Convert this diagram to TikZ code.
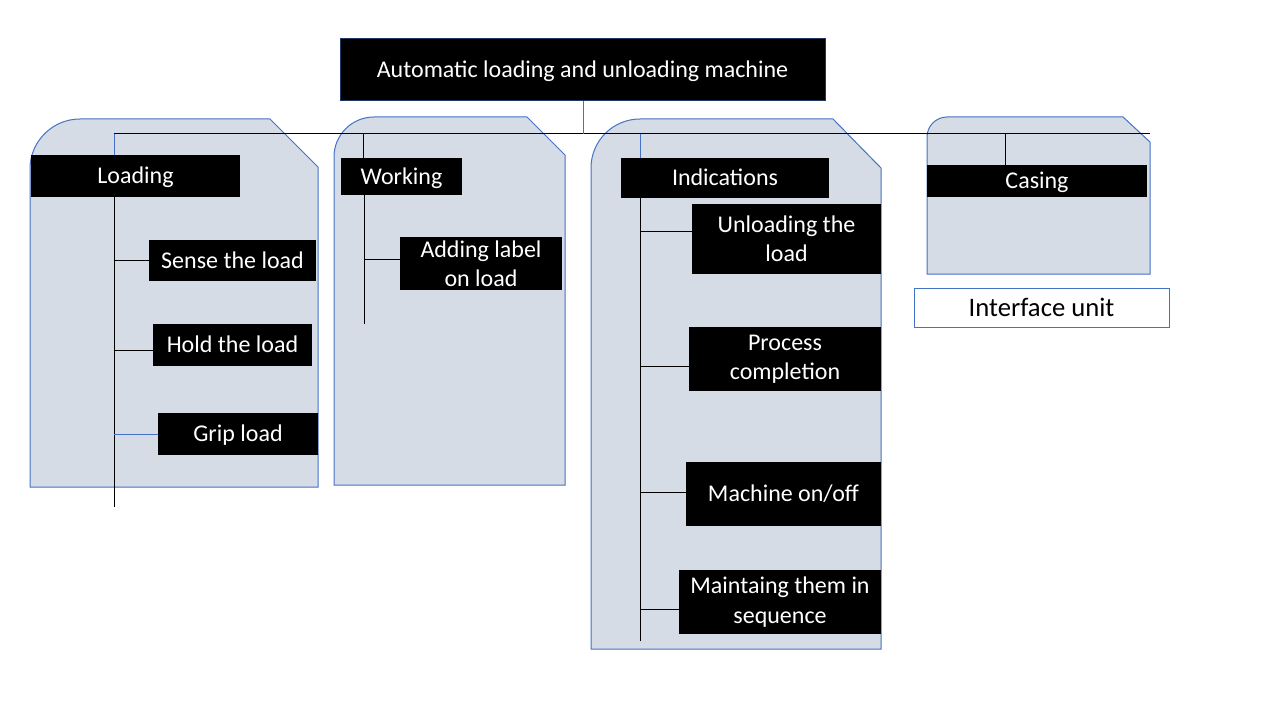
\documentclass[tikz,border=0pt]{standalone}
\usepackage{fontspec}
\setmainfont{Carlito}
\definecolor{panelfill}{HTML}{D6DCE5}
\definecolor{panelline}{HTML}{4472C4}
\definecolor{titleline}{HTML}{1F3864}
\tikzset{
  blk/.style={fill=black,text=white,inner sep=0pt,align=center,font=\fontsize{18}{22}\selectfont},
  one/.style={text height=15.84pt,text depth=4.32pt},
  panel/.style={fill=panelfill,draw=panelline,line width=0.75pt},
  bline/.style={draw=black,line width=0.75pt},
  uline/.style={draw=panelline,line width=0.75pt},
}
\begin{document}
\begin{tikzpicture}[x=0.75pt,y=-0.75pt]
\useasboundingbox (0,0) rectangle (1280,720);
% panels
\draw[panel] (30,487) -- (30,169) .. controls (30,141.4) and (52.4,119) .. (80,119) -- (270,119) -- (318,167) -- (318,487) -- cycle;
\draw[panel] (334,485) -- (334,157) .. controls (334,134.9) and (351.9,117) .. (374,117) -- (527,117) -- (565,155) -- (565,485) -- cycle;
\draw[panel] (591,649) -- (591,168) .. controls (591,140.9) and (612.9,119) .. (640,119) -- (833,119) -- (881,168) -- (881,649) -- cycle;
\draw[panel] (927,274) -- (927,137) .. controls (927,126) and (936,117) .. (947,117) -- (1123,117) -- (1150,142) -- (1150,274) -- cycle;
% title
\node[blk,one,draw=titleline,line width=0.75pt,minimum width=0.75pt*485,minimum height=0.75pt*62] (title) at (582.5,70) {Automatic loading and unloading machine};
% level boxes
\node[blk,one,minimum width=0.75pt*209,minimum height=0.75pt*42] (loading) at (135.5,176) {Loading};
\node[blk,one,minimum width=0.75pt*121,minimum height=0.75pt*37] (working) at (401.5,176.5) {Working};
\node[blk,one,minimum width=0.75pt*208,minimum height=0.75pt*40] (indic) at (725,178) {Indications};
\node[blk,one,minimum width=0.75pt*220,minimum height=0.75pt*32] (casing) at (1037,181) {Casing};
% children
\node[blk,one,minimum width=0.75pt*167,minimum height=0.75pt*41] (sense) at (232.5,260.5) {Sense the load};
\node[blk,one,minimum width=0.75pt*159,minimum height=0.75pt*42] (hold) at (232.5,345) {Hold the load};
\node[blk,one,minimum width=0.75pt*160,minimum height=0.75pt*42] (grip) at (238,434) {Grip load};
\node[blk,minimum width=0.75pt*162,minimum height=0.75pt*53] (adding) at (481,263.5) {Adding label\\on load};
\node[blk,minimum width=0.75pt*189,minimum height=0.75pt*70] (unl) at (786.5,239) {Unloading the\\load};
\node[blk,minimum width=0.75pt*192,minimum height=0.75pt*64] (proc) at (785,359) {Process\\completion};
\node[blk,one,minimum width=0.75pt*195,minimum height=0.75pt*64] (mach) at (783.5,494) {Machine on/off};
\node[blk,minimum width=0.75pt*202,minimum height=0.75pt*64] (maint) at (780,602) {Maintaing them in\\sequence};
\node[fill=white,draw=panelline,line width=0.75pt,inner sep=0pt,text height=17.6pt,text depth=4.8pt,minimum width=0.75pt*255,minimum height=0.75pt*39,font=\fontsize{20}{24}\selectfont] (iface) at (1041.5,307.5) {Interface unit};
% bus
\coordinate (busL) at (114,134);
\coordinate (busR) at (1150,134);
\coordinate (busT) at (583,134);
\coordinate (busW) at (363,134);
\coordinate (busI) at (640,134);
\coordinate (busC) at (1005,134);
\draw[bline] (busL) -- (busR);
\draw[uline] (title.south -| busT) -- (busT);
\draw[uline] (busL) -- (busL |- loading.north);
\draw[bline] (busW) -- (busW |- working.north);
\draw[uline] (busI) -- (busI |- indic.north);
\draw[bline] (busC) -- (busC |- casing.north);
% loading tree
\coordinate (lt) at (114,507);
\draw[bline] (lt |- loading.south) -- (lt);
\coordinate (l1) at (114,260);
\coordinate (l2) at (114,350);
\coordinate (l3) at (114,434);
\draw[bline] (l1) -- (l1 -| sense.west);
\draw[bline] (l2) -- (l2 -| hold.west);
\draw[uline] (l3) -- (l3 -| grip.west);
% working tree
\coordinate (wt) at (364,324);
\coordinate (w1) at (364,259);
\draw[bline] (wt |- working.south) -- (wt);
\draw[bline] (w1) -- (w1 -| adding.west);
% indications tree
\coordinate (it) at (640,641);
\coordinate (i1) at (640,232);
\coordinate (i2) at (640,366);
\coordinate (i3) at (640,492);
\coordinate (i4) at (640,609);
\draw[bline] (it |- indic.south) -- (it);
\draw[bline] (i1) -- (i1 -| unl.west);
\draw[bline] (i2) -- (i2 -| proc.west);
\draw[bline] (i3) -- (i3 -| mach.west);
\draw[bline] (i4) -- (i4 -| maint.west);
\end{tikzpicture}
\end{document}
